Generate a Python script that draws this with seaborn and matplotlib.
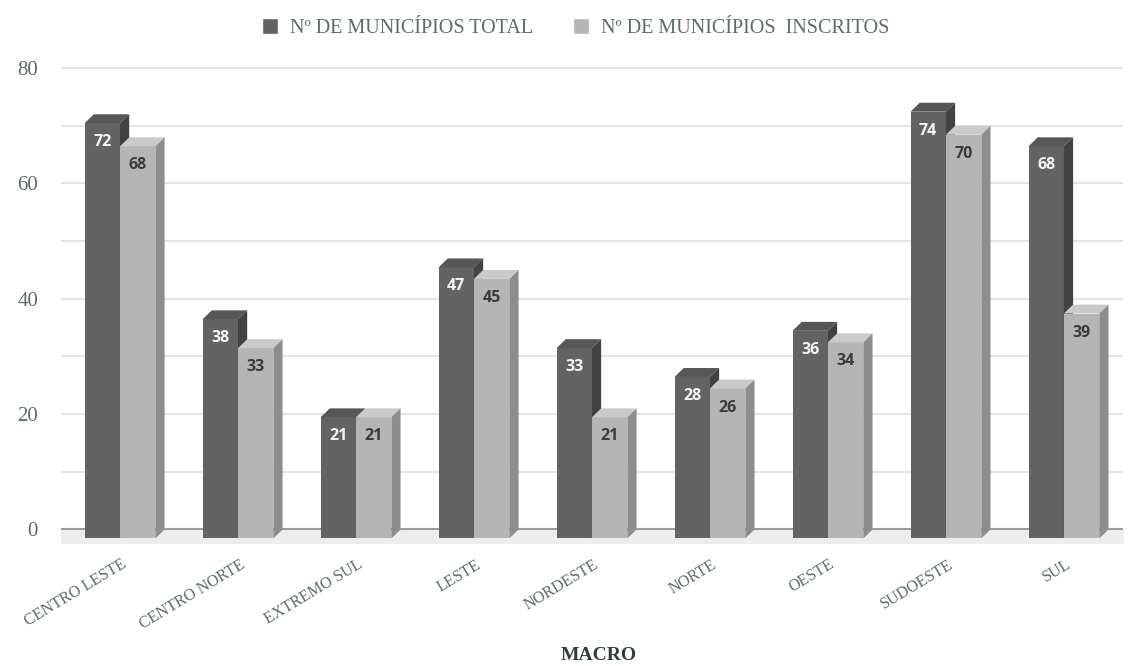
import pandas as pd
import seaborn as sns
from matplotlib import pyplot as plt
from matplotlib.patches import Polygon, Patch
from matplotlib.transforms import ScaledTranslation

#-------------------------- Data ----------------------------------------------
macros = ['CENTRO LESTE', 'CENTRO NORTE', 'EXTREMO SUL', 'LESTE', 'NORDESTE',
          'NORTE', 'OESTE', 'SUDOESTE', 'SUL']
total = [72, 38, 21, 47, 33, 28, 36, 74, 68]
inscritos = [68, 33, 21, 45, 21, 26, 34, 70, 39]
series = ['Nº DE MUNICÍPIOS TOTAL', 'Nº DE MUNICÍPIOS  INSCRITOS']
y_ticks = [0, 20, 40, 60, 80]

df = pd.DataFrame({'macro': macros * 2,
                   'valor': total + inscritos,
                   'serie': [series[0]] * len(macros) + [series[1]] * len(macros)})
values = [total, inscritos]

#-------------------------- Style ---------------------------------------------
front = ['#636363', '#b5b5b5']
top = ['#575757', '#cacaca']
side = ['#424242', '#8d8d8d']
label_col = ['#f4f4f4', '#3a3a3a']
text_col = '#5c6b6b'

sns.set_style('white')
plt.rcParams['font.family'] = ['Liberation Serif', 'DejaVu Serif']

fig = plt.figure(figsize=(11.4, 6.66), dpi=100)
ax = fig.add_axes([0.0535, 0.179, 0.9315, 0.736])

sns.barplot(data=df, x='macro', y='valor', hue='serie', palette=front,
            width=0.6, saturation=1, legend=False, ax=ax)

# pseudo 3d depth (data units)
dx, dy = 0.078, 1.55
n = len(macros)
for i, p in enumerate(ax.patches[:2 * n]):
    k, j = divmod(i, n)
    v = values[k][j]
    x0, w = p.get_x(), p.get_width()
    p.set_y(-dy)
    p.set_height(v)
    p.set_zorder(3 + k)
    p.set_linewidth(0)
    ax.add_patch(Polygon([(x0, v - dy), (x0 + w, v - dy), (x0 + w + dx, v), (x0 + dx, v)],
                         closed=True, facecolor=top[k], edgecolor='none', zorder=3 + k))
    ax.add_patch(Polygon([(x0 + w, -dy), (x0 + w, v - dy), (x0 + w + dx, v), (x0 + w + dx, 0)],
                         closed=True, facecolor=side[k], edgecolor='none', zorder=3 + k))
    ax.text(x0 + w / 2, v - dy - 3.3, str(v), ha='center', va='center',
            fontsize=11.5, fontweight='bold', family='Open Sans',
            color=label_col[k], zorder=6)

# grid, floor, baseline
for y in range(10, 90, 10):
    ax.axhline(y, color='#e4e4e4', lw=1.5, zorder=1)
ax.fill_between([-0.6, 8.7], -2.6, 0, color='#ededed', zorder=1, lw=0)
ax.axhline(0, color='#9c9c9c', lw=1.5, zorder=2)

ax.set_xlim(-0.5, 8.5)
ax.set_ylim(-3, 82)
ax.set_yticks(y_ticks)
ax.set_yticklabels([str(t) for t in y_ticks], fontsize=15, color=text_col)
ax.tick_params(axis='y', length=0, pad=16.5)
ax.set_xticks(range(n))
ax.set_xticklabels(macros, rotation=31, ha='right', rotation_mode='anchor',
                   fontsize=11.5, color=text_col)
ax.tick_params(axis='x', length=0, pad=7)
for lab in ax.get_xticklabels():
    lab.set_transform(lab.get_transform() + ScaledTranslation(1 / 72, 0, fig.dpi_scale_trans))
ax.set_xlabel('')
ax.set_ylabel('')
sns.despine(ax=ax, left=True, bottom=True)

fig.text(0.525, 0.016, 'MACRO', ha='center', va='center', fontsize=14,
         fontweight='bold', color='#2f3d3d')

handles = [Patch(facecolor=front[0]), Patch(facecolor=front[1])]
fig.legend(handles, series, loc='upper center', bbox_to_anchor=(0.505, 1.0),
           ncol=2, frameon=False, fontsize=14.5, handlelength=0.8, handleheight=0.8,
           handletextpad=0.6, columnspacing=2.0, labelcolor=text_col)

fig.savefig('out.png', dpi=100)
